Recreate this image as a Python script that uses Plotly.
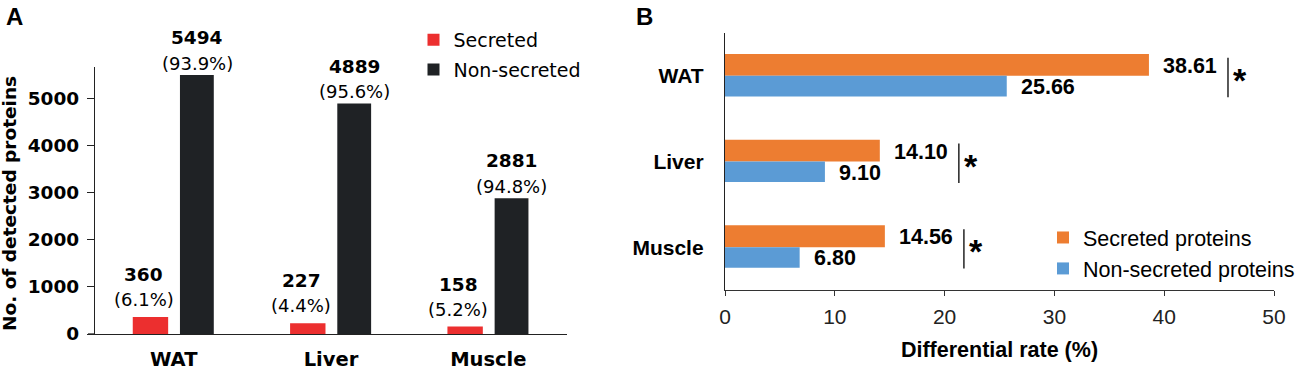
import plotly.graph_objects as go

# ---------------- data ----------------
tissues = ["WAT", "Liver", "Muscle"]
secreted_counts = [360, 227, 158]
nonsecreted_counts = [5494, 4889, 2881]
secreted_pct = ["6.1%", "4.4%", "5.2%"]
nonsecreted_pct = ["93.9%", "95.6%", "94.8%"]

diff_secreted = [38.61, 14.10, 14.56]
diff_nonsecreted = [25.66, 9.10, 6.80]
diff_labels_sec = ["38.61", "14.10", "14.56"]
diff_labels_non = ["25.66", "9.10", "6.80"]

y_ticks_a = [0, 1000, 2000, 3000, 4000, 5000]
x_ticks_b = [0, 10, 20, 30, 40, 50]

# ---------------- style ----------------
W, H = 1299, 371
FA = "DejaVu Sans"
FB = "Liberation Sans, Arial"
RED, BLACK = "#EC2F2F", "#1F2225"
ORANGE, BLUE = "#ED7D31", "#5B9BD5"
AX = "#222222"


def px_x(p):
    return p / W


def px_y(p):
    return 1 - p / H


fig = go.Figure()

# Panel A
fig.add_trace(go.Bar(x=tissues, y=secreted_counts, name="Secreted",
                     marker=dict(color=RED, line=dict(width=0)),
                     width=0.225, offset=-0.26, xaxis="x", yaxis="y",
                     legend="legend", legendgroup="a1"))
fig.add_trace(go.Bar(x=tissues, y=nonsecreted_counts, name="Non-secreted",
                     marker=dict(color=BLACK, line=dict(width=0)),
                     width=0.215, offset=0.04, xaxis="x", yaxis="y",
                     legend="legend", legendgroup="a2"))

# Panel B
fig.add_trace(go.Bar(y=tissues, x=diff_secreted, orientation="h",
                     name="Secreted proteins",
                     marker=dict(color=ORANGE, line=dict(width=0)),
                     width=0.255, offset=-0.255, xaxis="x2", yaxis="y2",
                     legend="legend2"))
fig.add_trace(go.Bar(y=tissues, x=diff_nonsecreted, orientation="h",
                     name="Non-secreted proteins",
                     marker=dict(color=BLUE, line=dict(width=0)),
                     width=0.24, offset=0.0, xaxis="x2", yaxis="y2",
                     legend="legend2"))

ann = []
# Panel A value labels
for i, t in enumerate(tissues):
    ann.append(dict(x=t, y=secreted_counts[i], xref="x", yref="y",
                    text=str(secreted_counts[i]), showarrow=False,
                    xshift=-30, yshift=42.5, yanchor="middle",
                    font=dict(family=FA, size=18.5, color="black", weight="bold")))
    ann.append(dict(x=t, y=secreted_counts[i], xref="x", yref="y",
                    text="(" + secreted_pct[i] + ")", showarrow=False,
                    xshift=-30, yshift=17.5, yanchor="middle",
                    font=dict(family=FA, size=18, color="black")))
    ann.append(dict(x=t, y=nonsecreted_counts[i], xref="x", yref="y",
                    text=str(nonsecreted_counts[i]), showarrow=False,
                    xshift=23.5, yshift=37.5, yanchor="middle",
                    font=dict(family=FA, size=18.5, color="black", weight="bold")))
    ann.append(dict(x=t, y=nonsecreted_counts[i], xref="x", yref="y",
                    text="(" + nonsecreted_pct[i] + ")", showarrow=False,
                    xshift=23.5, yshift=12, yanchor="middle",
                    font=dict(family=FA, size=18, color="black")))

# Panel A y-axis title
ann.append(dict(x=px_x(9.5), y=px_y(203.5), xref="paper", yref="paper",
                text="No. of detected proteins", textangle=-90, showarrow=False,
                xanchor="center", yanchor="middle",
                font=dict(family=FA, size=18.5, color="black", weight="bold")))

# Panel B value labels + significance
shapes = []
for i, t in enumerate(tissues):
    ann.append(dict(x=diff_secreted[i], y=i - 0.1275, xref="x2", yref="y2",
                    text=diff_labels_sec[i], showarrow=False, xanchor="left",
                    xshift=12, yshift=-1, yanchor="middle",
                    font=dict(family=FB, size=21.5, color="black", weight="bold")))
    ann.append(dict(x=diff_nonsecreted[i], y=i + 0.12, xref="x2", yref="y2",
                    text=diff_labels_non[i], showarrow=False, xanchor="left",
                    xshift=12, yshift=-1, yanchor="middle",
                    font=dict(family=FB, size=21.5, color="black", weight="bold")))
    sx = max(diff_secreted[i], diff_nonsecreted[i]) + 7.2
    shapes.append(dict(type="line", xref="x2", yref="y2", x0=sx, x1=sx,
                       y0=i - 0.21, y1=i + 0.25,
                       line=dict(color="black", width=1.3)))
    ann.append(dict(x=sx, y=i, xref="x2", yref="y2", text="*", showarrow=False,
                    xshift=12, yshift=-4, yanchor="middle",
                    font=dict(family=FB, size=34, color="black", weight="bold")))

# small extension of the panel A baseline left of the y axis
shapes.append(dict(type="line", xref="paper", yref="y", x0=px_x(88), x1=px_x(95),
                   y0=0, y1=0, line=dict(color=AX, width=1.3)))

# Panel letters
ann.append(dict(x=px_x(14), y=px_y(16.5), xref="paper", yref="paper", text="A",
                showarrow=False, xanchor="center", yanchor="middle",
                font=dict(family=FB, size=24, color="black", weight="bold")))
ann.append(dict(x=px_x(644.5), y=px_y(16.5), xref="paper", yref="paper", text="B",
                showarrow=False, xanchor="center", yanchor="middle",
                font=dict(family=FB, size=24, color="black", weight="bold")))

fig.update_layout(
    width=W, height=H,
    margin=dict(l=0, r=0, t=0, b=0, autoexpand=False),
    paper_bgcolor="white", plot_bgcolor="white",
    showlegend=True,
    annotations=ann, shapes=shapes,
    xaxis=dict(domain=[px_x(95), px_x(567)], anchor="y", range=[-0.5, 2.5],
               automargin=False,
               showline=True, linecolor=AX, linewidth=1.3, ticks="",
               showgrid=False, zeroline=False, ticklabelstandoff=7,
               tickfont=dict(family=FA, size=19.5, color="black", weight="bold")),
    yaxis=dict(domain=[px_y(334), px_y(67)], anchor="x", range=[0, 5665],
               automargin=False,
               tickvals=y_ticks_a, showline=True, linecolor=AX, linewidth=1.3,
               ticks="outside", ticklen=7, tickcolor=AX, tickwidth=1.3,
               showgrid=False, zeroline=False, ticklabelstandoff=4,
               tickfont=dict(family=FA, size=18.5, color="black", weight="bold")),
    xaxis2=dict(domain=[px_x(725), px_x(1274)], anchor="y2", range=[0, 50],
                automargin=False,
                tickvals=x_ticks_b, showline=True, linecolor="#333333", linewidth=1.3,
                ticks="outside", ticklen=5, tickcolor="#333333", tickwidth=1.3,
                showgrid=False, zeroline=False, ticklabelstandoff=3,
                tickfont=dict(family=FB, size=21, color="#222222"),
                title=dict(text="Differential rate (%)", standoff=14,
                           font=dict(family=FB, size=21.5, color="black", weight="bold"))),
    yaxis2=dict(domain=[px_y(290), px_y(33)], anchor="x2", autorange="reversed",
                automargin=False,
                showline=True, linecolor=AX, linewidth=1.3, ticks="",
                showgrid=False, zeroline=False, ticklabelstandoff=16,
                tickfont=dict(family=FB, size=21, color="black", weight="bold")),
    legend=dict(x=px_x(413.5), y=px_y(21), xanchor="left", yanchor="top",
                bgcolor="rgba(0,0,0,0)", traceorder="grouped", tracegroupgap=2,
                font=dict(family=FA, size=19, color="black")),
    legend2=dict(x=px_x(1043), y=px_y(217), xanchor="left", yanchor="top",
                 bgcolor="rgba(0,0,0,0)", traceorder="normal",
                 font=dict(family=FB, size=21.5, color="black")),
)

# remove the browser's default 8px page margin so the figure fills the window
fig.write_html("out.html",
               config={"displayModeBar": False},
               post_script="document.body.style.margin='0';"
                           "document.body.style.overflow='hidden';")
